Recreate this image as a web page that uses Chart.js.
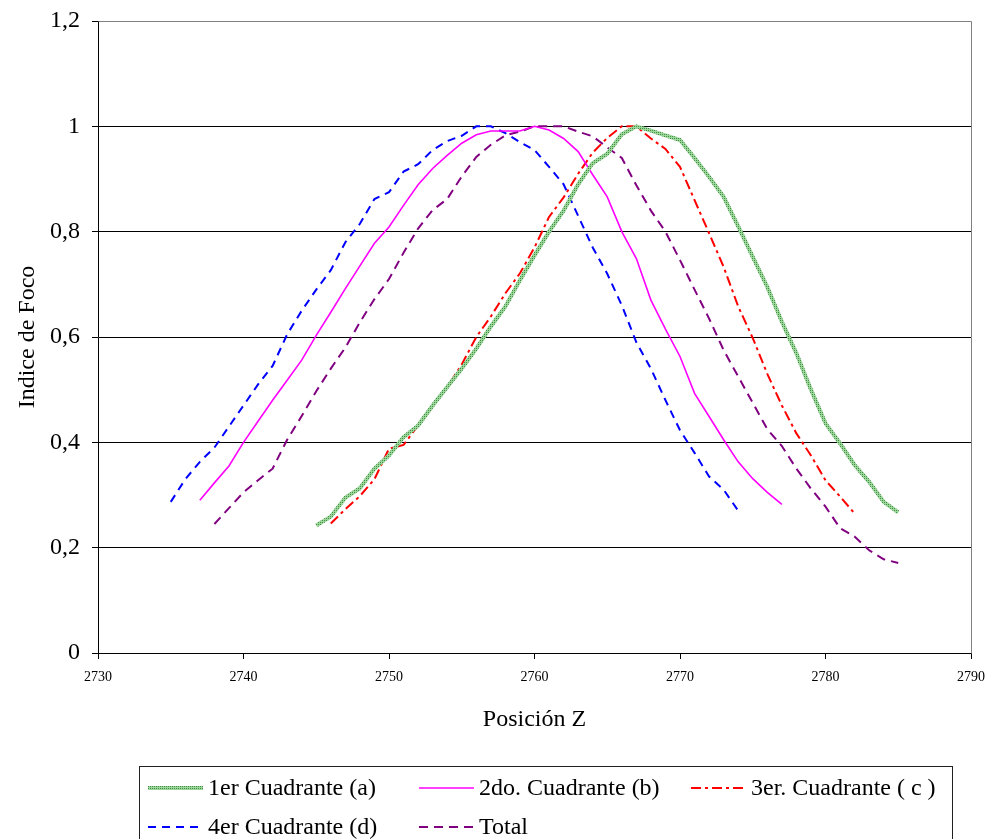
<!DOCTYPE html>
<html>
<head>
<meta charset="utf-8">
<title>Indice de Foco vs Posición Z</title>
<script src="https://cdn.jsdelivr.net/npm/chart.js@4.4.1/dist/chart.umd.min.js"></script>
<style>
  html, body { margin: 0; padding: 0; background: #ffffff; }
  #wrap { width: 995px; height: 839px; position: relative; }
</style>
</head>
<body>
<div id="wrap"><canvas id="chart"></canvas></div>
<script>
// Focus index measured against Z position for each quadrant and the total image.
const zQ1 = [2745,2746,2747,2748,2749,2750,2751,2752,2753,2754,2755,2756,2757,2758,2759,2760,2761,2762,2763,2764,2765,2766,2767,2768,2769,2770,2771,2772,2773,2774,2775,2776,2777,2778,2779,2780,2781,2782,2783,2784,2785];
const focusQ1 = [0.242,0.259,0.295,0.313,0.350,0.375,0.410,0.432,0.470,0.505,0.540,0.578,0.620,0.658,0.708,0.755,0.800,0.840,0.890,0.930,0.948,0.985,1.000,0.992,0.983,0.974,0.940,0.904,0.866,0.810,0.752,0.695,0.629,0.569,0.500,0.436,0.398,0.357,0.325,0.287,0.267];

const zQ2 = [2737,2738,2739,2740,2741,2742,2743,2744,2745,2746,2747,2748,2749,2750,2751,2752,2753,2754,2755,2756,2757,2758,2759,2760,2761,2762,2763,2764,2765,2766,2767,2768,2769,2770,2771,2772,2773,2774,2775,2776,2777];
const focusQ2 = [0.290,0.323,0.355,0.400,0.440,0.480,0.518,0.556,0.603,0.647,0.692,0.735,0.778,0.809,0.850,0.889,0.920,0.945,0.968,0.984,0.991,0.991,0.991,1.000,0.993,0.977,0.952,0.908,0.866,0.800,0.749,0.670,0.615,0.563,0.493,0.449,0.405,0.363,0.331,0.305,0.282];

const zQ3 = [2746,2747,2748,2749,2750,2751,2752,2753,2754,2755,2756,2757,2758,2759,2760,2761,2762,2763,2764,2765,2766,2767,2768,2769,2770,2771,2772,2773,2774,2775,2776,2777,2778,2779,2780,2781,2782];
const focusQ3 = [0.246,0.273,0.298,0.330,0.388,0.395,0.432,0.468,0.505,0.548,0.600,0.639,0.683,0.721,0.770,0.828,0.865,0.910,0.950,0.978,1.000,1.000,0.977,0.957,0.923,0.860,0.797,0.733,0.658,0.598,0.530,0.470,0.417,0.375,0.328,0.297,0.265];

const zQ4 = [2735,2736,2737,2738,2739,2740,2741,2742,2743,2744,2745,2746,2747,2748,2749,2750,2751,2752,2753,2754,2755,2756,2757,2758,2759,2760,2761,2762,2763,2764,2765,2766,2767,2768,2769,2770,2771,2772,2773,2774];
const focusQ4 = [0.287,0.330,0.363,0.390,0.430,0.470,0.510,0.545,0.605,0.650,0.690,0.727,0.780,0.815,0.862,0.875,0.914,0.928,0.955,0.972,0.982,1.000,1.000,0.987,0.970,0.955,0.923,0.890,0.830,0.770,0.720,0.660,0.590,0.540,0.480,0.423,0.380,0.335,0.310,0.270];

const zTotal = [2738,2739,2740,2741,2742,2743,2744,2745,2746,2747,2748,2749,2750,2751,2752,2753,2754,2755,2756,2757,2758,2759,2760,2761,2762,2763,2764,2765,2766,2767,2768,2769,2770,2771,2772,2773,2774,2775,2776,2777,2778,2779,2780,2781,2782,2783,2784,2785];
const focusTotal = [0.245,0.275,0.305,0.328,0.350,0.405,0.450,0.497,0.540,0.580,0.628,0.672,0.710,0.760,0.806,0.841,0.862,0.905,0.942,0.965,0.983,0.990,1.000,1.000,1.000,0.990,0.981,0.960,0.940,0.888,0.840,0.800,0.746,0.690,0.635,0.575,0.525,0.475,0.425,0.393,0.350,0.312,0.278,0.237,0.221,0.195,0.178,0.171];

const seriesLabels = ['1er Cuadrante (a)', '2do. Cuadrante (b)', '3er. Cuadrante ( c )', '4er Cuadrante (d)', 'Total'];
const xTicks = [2730, 2740, 2750, 2760, 2770, 2780, 2790];
const yTicks = [0, 0.2, 0.4, 0.6, 0.8, 1, 1.2];

const SERIF = '"Liberation Serif", "Times New Roman", serif';

// Textured green stroke for the first quadrant line
function makeGreenPattern() {
  const pc = document.createElement('canvas');
  pc.width = 2; pc.height = 2;
  const g = pc.getContext('2d');
  g.fillStyle = '#9cd69c';
  g.fillRect(0, 0, 2, 2);
  g.fillStyle = '#3f903f';
  g.fillRect(0, 0, 1, 1);
  return g.createPattern(pc, 'repeat');
}
const greenPattern = makeGreenPattern();

const pairs = (xs, ys) => xs.map((x, i) => ({ x: x, y: ys[i] }));

const datasets = [
  { label: seriesLabels[0], data: pairs(zQ1, focusQ1), borderColor: greenPattern, borderWidth: 4, borderDash: [] },
  { label: seriesLabels[1], data: pairs(zQ2, focusQ2), borderColor: '#ff00ff', borderWidth: 1.6, borderDash: [] },
  { label: seriesLabels[2], data: pairs(zQ3, focusQ3), borderColor: '#ff0000', borderWidth: 2, borderDash: [10, 4, 3, 4] },
  { label: seriesLabels[3], data: pairs(zQ4, focusQ4), borderColor: '#0000ff', borderWidth: 2, borderDash: [8, 6] },
  { label: seriesLabels[4], data: pairs(zTotal, focusTotal), borderColor: '#800080', borderWidth: 2, borderDash: [9, 6] }
];
datasets.forEach(d => { d.fill = false; d.tension = 0; d.pointRadius = 0; d.pointHoverRadius = 0; });

// Gray frame on the top and right edges of the plot area
const plotFrame = {
  id: 'plotFrame',
  afterDraw(chart) {
    const { ctx, chartArea: a } = chart;
    ctx.save();
    ctx.strokeStyle = '#808080';
    ctx.lineWidth = 1;
    ctx.beginPath();
    ctx.moveTo(Math.round(a.left) + 0.5, Math.round(a.top) + 0.5);
    ctx.lineTo(Math.round(a.right) + 0.5, Math.round(a.top) + 0.5);
    ctx.lineTo(Math.round(a.right) + 0.5, Math.round(a.bottom) + 0.5);
    ctx.stroke();
    ctx.restore();
  }
};

// Boxed legend below the axis title, three entries per row
const boxedLegend = {
  id: 'boxedLegend',
  afterDraw(chart) {
    const ctx = chart.ctx;
    const box = { left: 139.5, top: 766.5, right: 952.5, bottom: 850 };
    const cols = [148, 419, 691];
    const rows = [788, 827];
    const swatch = 55;
    ctx.save();
    ctx.fillStyle = '#ffffff';
    ctx.fillRect(box.left, box.top, box.right - box.left, box.bottom - box.top);
    ctx.strokeStyle = '#202020';
    ctx.lineWidth = 1;
    ctx.strokeRect(box.left, box.top, box.right - box.left, box.bottom - box.top);
    ctx.font = '24px ' + SERIF;
    ctx.textBaseline = 'middle';
    ctx.textAlign = 'left';
    chart.data.datasets.forEach((ds, i) => {
      const x = cols[i % 3];
      const y = rows[Math.floor(i / 3)];
      ctx.save();
      ctx.strokeStyle = ds.borderColor;
      ctx.lineWidth = ds.borderWidth;
      ctx.setLineDash(ds.borderDash || []);
      ctx.beginPath();
      ctx.moveTo(x, y);
      ctx.lineTo(x + swatch, y);
      ctx.stroke();
      ctx.restore();
      ctx.fillStyle = '#000000';
      ctx.fillText(ds.label, x + swatch + 5, y + 1);
    });
    ctx.restore();
  }
};

const fmtComma = v => {
  const r = Math.round(v * 10) / 10;
  return String(r).replace('.', ',');
};

new Chart(document.getElementById('chart'), {
  type: 'line',
  data: { datasets: datasets },
  options: {
    responsive: true,
    maintainAspectRatio: false,
    animation: false,
    events: [],
    layout: { padding: { left: 0, right: 24, top: 21, bottom: 105 } },
    plugins: {
      legend: { display: false },
      tooltip: { enabled: false }
    },
    scales: {
      x: {
        type: 'linear',
        min: 2730,
        max: 2790,
        afterFit: s => { s.height = 81; s.paddingLeft = 0; s.paddingRight = 0; },
        afterBuildTicks: s => { s.ticks = xTicks.map(v => ({ value: v })); },
        ticks: {
          color: '#000000',
          font: { family: SERIF, size: 14 },
          padding: 10,
          maxRotation: 0,
          callback: v => String(v)
        },
        grid: { drawOnChartArea: false, drawTicks: true, tickLength: 6, color: '#000000' },
        border: { color: '#000000', width: 1 },
        title: {
          display: true,
          text: 'Posición Z',
          color: '#000000',
          font: { family: SERIF, size: 24 },
          padding: { top: 0, bottom: 0 }
        }
      },
      y: {
        type: 'linear',
        min: 0,
        max: 1.2,
        afterFit: s => { s.width = 98; s.paddingTop = 0; s.paddingBottom = 0; },
        afterBuildTicks: s => { s.ticks = yTicks.map(v => ({ value: v })); },
        ticks: {
          color: '#000000',
          font: { family: SERIF, size: 24 },
          padding: 12,
          callback: v => fmtComma(v)
        },
        grid: { color: '#000000', lineWidth: 1, drawTicks: true, tickLength: 6, tickColor: '#000000' },
        border: { color: '#000000', width: 1 },
        title: {
          display: true,
          text: 'Indice de Foco',
          color: '#000000',
          font: { family: SERIF, size: 24 },
          padding: { top: 13, bottom: 0 }
        }
      }
    }
  },
  plugins: [plotFrame, boxedLegend]
});
</script>
</body>
</html>
